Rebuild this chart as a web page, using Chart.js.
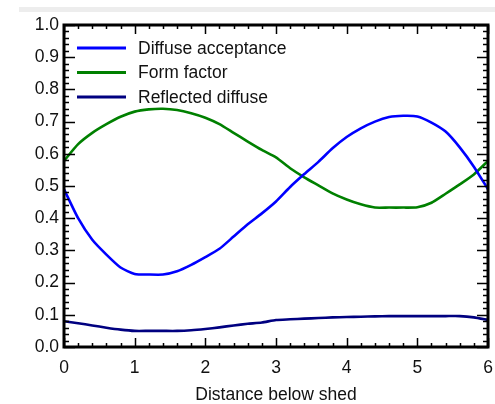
<!DOCTYPE html>
<html>
<head>
<meta charset="utf-8">
<script src="https://cdn.jsdelivr.net/npm/chart.js@4/dist/chart.umd.min.js"></script>
<style>
    body { margin: 0; background: #fff; }
    #wrap { position: relative; width: 495px; height: 404px; }
    #band { position: absolute; left: 19px; top: 7px; width: 476px; height: 5px; background: #ededed; }
    #chart { position: absolute; left: 0; top: 0; }
</style>
</head>
<body>
<div id="wrap">
    <div id="band"></div>
    <canvas id="chart" width="495" height="404"></canvas>
</div>
<script>
const distance = [0, 0.2, 0.4, 0.6, 0.8, 1.0, 1.2, 1.4, 1.6, 1.8, 2.0, 2.2, 2.4, 2.6, 2.8, 3.0,
    3.2, 3.4, 3.6, 3.8, 4.0, 4.2, 4.4, 4.6, 4.8, 5.0, 5.2, 5.4, 5.6, 5.8, 6.0];

const diffuseAcceptance = [0.49, 0.40, 0.333, 0.287, 0.247, 0.227, 0.225, 0.225, 0.235, 0.255, 0.279,
    0.305, 0.343, 0.381, 0.415, 0.452, 0.497, 0.537, 0.575, 0.617, 0.652, 0.679, 0.70, 0.714,
    0.718, 0.716, 0.697, 0.669, 0.62, 0.56, 0.49];

const formFactor = [0.578, 0.63, 0.665, 0.692, 0.715, 0.731, 0.738, 0.74, 0.736, 0.726, 0.712,
    0.692, 0.665, 0.638, 0.612, 0.589, 0.555, 0.527, 0.502, 0.477, 0.458, 0.443, 0.433, 0.433,
    0.433, 0.434, 0.448, 0.476, 0.505, 0.536, 0.578];

const reflectedDiffuse = [0.08, 0.074, 0.067, 0.06, 0.054, 0.05, 0.05, 0.05, 0.05, 0.052, 0.056,
    0.061, 0.067, 0.072, 0.076, 0.084, 0.086, 0.088, 0.09, 0.092, 0.093, 0.094, 0.095, 0.096,
    0.096, 0.096, 0.096, 0.096, 0.096, 0.092, 0.084];

const seriesNames = ['Diffuse acceptance', 'Form factor', 'Reflected diffuse'];
const seriesColors = ['#0000ff', '#008000', '#000080'];

const FONT = 'Arial, "Liberation Sans", sans-serif';

function toPoints(values) {
    return values.map((v, i) => ({ x: distance[i], y: v }));
}

// frame, inward ticks and the legend inside the plot
const framePlugin = {
    id: 'frame',
    afterDatasetsDraw(chart) {
        const ctx = chart.ctx;
        const area = chart.chartArea;
        const xs = chart.scales.x;
        const ys = chart.scales.y;

        ctx.save();
        ctx.strokeStyle = '#000';
        ctx.lineWidth = 1.5;
        ctx.beginPath();
        for (let v = 0; v <= 6.001; v += 0.2) {
            const px = Math.round(xs.getPixelForValue(v)) + 0.5;
            const major = Math.abs(v - Math.round(v)) < 0.01;
            const len = major ? 9 : 4;
            ctx.moveTo(px, area.bottom);
            ctx.lineTo(px, area.bottom - len);
            ctx.moveTo(px, area.top);
            ctx.lineTo(px, area.top + len);
        }
        for (let v = 0; v <= 1.0001; v += 0.02) {
            const py = Math.round(ys.getPixelForValue(v)) + 0.5;
            const major = Math.abs(v * 10 - Math.round(v * 10)) < 0.01;
            const len = major ? 11 : 5;
            ctx.moveTo(area.left, py);
            ctx.lineTo(area.left + len, py);
            ctx.moveTo(area.right, py);
            ctx.lineTo(area.right - len, py);
        }
        ctx.stroke();

        ctx.lineWidth = 3;
        ctx.strokeRect(area.left, area.top, area.right - area.left, area.bottom - area.top);

        ctx.font = '17.5px ' + FONT;
        ctx.textBaseline = 'middle';
        ctx.textAlign = 'left';
        chart.data.datasets.forEach((ds, i) => {
            const y = 48 + i * 24.5;
            ctx.strokeStyle = ds.borderColor;
            ctx.lineWidth = 3;
            ctx.beginPath();
            ctx.moveTo(77, y);
            ctx.lineTo(126, y);
            ctx.stroke();
            ctx.fillStyle = '#111';
            ctx.fillText(ds.label, 138, y + 1);
        });
        ctx.restore();
    }
};

new Chart(document.getElementById('chart'), {
    type: 'line',
    data: {
        datasets: [
            { label: seriesNames[0], data: toPoints(diffuseAcceptance), borderColor: seriesColors[0] },
            { label: seriesNames[1], data: toPoints(formFactor), borderColor: seriesColors[1] },
            { label: seriesNames[2], data: toPoints(reflectedDiffuse), borderColor: seriesColors[2] }
        ]
    },
    options: {
        responsive: false,
        animation: false,
        layout: { padding: { top: 25, right: 7, left: 0, bottom: 0 } },
        elements: {
            line: { borderWidth: 2.6, tension: 0.2 },
            point: { radius: 0 }
        },
        plugins: {
            legend: { display: false },
            tooltip: { enabled: false }
        },
        scales: {
            x: {
                type: 'linear',
                min: 0,
                max: 6,
                grid: { display: false, drawTicks: false },
                border: { display: false },
                ticks: {
                    stepSize: 1,
                    padding: 11,
                    color: '#111',
                    font: { family: FONT, size: 17.5 }
                },
                title: {
                    display: true,
                    text: 'Distance below shed',
                    color: '#111',
                    padding: { top: 0, bottom: -2 },
                    font: { family: FONT, size: 17.5 }
                },
                afterFit(scale) {
                    scale.height = 57;
                    scale.paddingLeft = 0;
                    scale.paddingRight = 0;
                }
            },
            y: {
                min: 0,
                max: 1,
                grid: { display: false, drawTicks: false },
                border: { display: false },
                ticks: {
                    stepSize: 0.1,
                    padding: 5,
                    color: '#111',
                    font: { family: FONT, size: 17.5 },
                    callback: v => v.toFixed(1)
                },
                afterFit(scale) {
                    scale.width = 64;
                    scale.paddingTop = 0;
                    scale.paddingBottom = 0;
                }
            }
        }
    },
    plugins: [framePlugin]
});
</script>
</body>
</html>
